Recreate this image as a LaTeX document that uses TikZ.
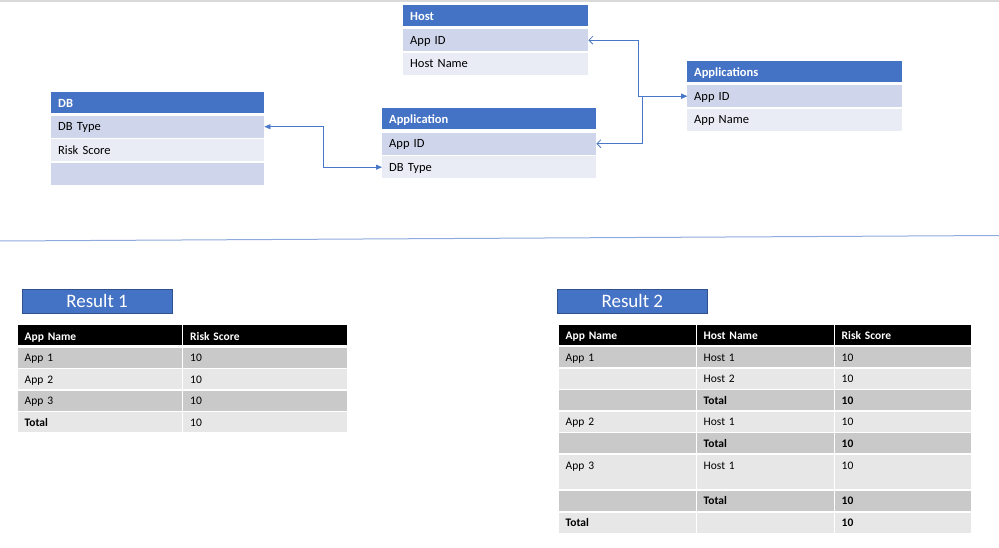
\documentclass[tikz,border=0pt]{standalone}
\usepackage{fontspec}
\setmainfont{Carlito}
\usetikzlibrary{arrows.meta}
\definecolor{hdrblue}{HTML}{4472C4}
\definecolor{rowA}{HTML}{CFD5EA}
\definecolor{rowB}{HTML}{E9EBF5}
\definecolor{gDark}{HTML}{C9C9C9}
\definecolor{gLight}{HTML}{E7E7E7}
\definecolor{linkblue}{HTML}{4A78C8}
\definecolor{sepblue}{HTML}{8FAADC}
\definecolor{boxedge}{HTML}{2F528F}
\definecolor{topgray}{HTML}{D9D9D9}
\tikzset{
  tbl/.style={anchor=north west, inner xsep=7pt, inner ysep=0pt, align=left,
              font=\fontsize{12.5}{15}\selectfont, text=black,
              text height=8.5pt, text depth=0pt},
  thdr/.style={tbl, fill=hdrblue, text=white, font=\fontsize{12.5}{15}\selectfont\bfseries,
              minimum height=21pt, text height=10.5pt},
  trowA/.style={tbl, fill=rowA, minimum height=22pt},
  trowB/.style={tbl, fill=rowB, minimum height=22pt},
  res/.style={anchor=north west, inner xsep=7pt, inner ysep=0pt, align=left,
              font=\fontsize{11.5}{14}\selectfont, text=black, minimum height=20pt,
              text height=8.5pt, text depth=0pt},
  rhdr/.style={res, fill=black, text=white, font=\fontsize{11.5}{14}\selectfont\bfseries, text height=10.5pt},
  rdark/.style={res, fill=gDark},
  rlight/.style={res, fill=gLight},
  rtall/.style={res, fill=gLight, minimum height=34pt, text height=9pt, text depth=14.4pt},
  rbold/.style={font=\fontsize{11.5}{14}\selectfont\bfseries},
  restitle/.style={anchor=north west, fill=hdrblue, draw=boxedge, line width=0.6pt,
              text=white, font=\fontsize{19}{22}\selectfont, minimum width=149.5pt,
              minimum height=24pt, inner sep=0pt},
  link/.style={draw=linkblue, line width=0.75pt},
  both/.style={link, {Triangle[length=6pt,width=5pt]}-{Triangle[length=6pt,width=5pt]}},
  oneway/.style={link, {Triangle[length=6pt,width=5pt]}-{Straight Barb[length=4pt,width=8pt]}}
}
\begin{document}
\begin{tikzpicture}[x=1pt,y=-1pt]
\useasboundingbox (0,0) rectangle (999,548);
% separators
\draw[topgray, line width=1.2pt] (0,1) -- (999,1);
\draw[sepblue, line width=1pt] (0,241) -- (999,235.5);

% DB table
\node[thdr, text width=199pt] (db) at (51,91.5) {DB};
\node[trowA, text width=199pt] (dbtype) at (51,115.5) {DB Type};
\node[trowB, text width=199pt] (dbrisk) at (51,139) {Risk Score};
\node[trowA, text width=199pt] (dbempty) at (51,162.5) {};

% Host table
\node[thdr, text width=171pt] (host) at (403,5) {Host};
\node[trowA, text width=171pt] (hostid) at (403,29) {App ID};
\node[trowB, text width=171pt] (hostname) at (403,52.5) {Host Name};

% Application table
\node[thdr, text width=200pt] (app) at (382,108) {Application};
\node[trowA, text width=200pt] (appid) at (382,132.5) {App ID};
\node[trowB, text width=200pt] (appdb) at (382,156) {DB Type};

% Applications table
\node[thdr, text width=201pt] (apps) at (687,61) {Applications};
\node[trowA, text width=201pt] (appsid) at (687,85) {App ID};
\node[trowB, text width=201pt] (appsname) at (687,108.5) {App Name};

% connectors
\draw[both] (dbtype.east) -- ++(59,0) |- (appdb.west);
\draw[oneway] (appsid.west) -- ++(-48.5,0) |- (hostid.east);
\draw[oneway] (appsid.west) -- ++(-45,0) |- (appid.east);

% Result 1
\node[restitle] (res1) at (22,289) {Result 1};
\node[rhdr, text width=150.5pt] (a0) at (17.5,324.8) {App Name};
\node[rhdr, text width=150pt] (b0) at (183,324.8) {Risk Score};
\node[rdark, text width=150.5pt] (a1) at (17.5,347.5) {App 1};
\node[rdark, text width=150pt] (b1) at (183,347.5) {10};
\node[rlight, text width=150.5pt] (a2) at (17.5,369) {App 2};
\node[rlight, text width=150pt] (b2) at (183,369) {10};
\node[rdark, text width=150.5pt] (a3) at (17.5,390.5) {App 3};
\node[rdark, text width=150pt] (b3) at (183,390.5) {10};
\node[rlight, rbold, text width=150.5pt] (a4) at (17.5,412) {Total};
\node[rlight, text width=150pt] (b4) at (183,412) {10};

% Result 2
\node[restitle] (res2) at (557.3,289) {Result 2};
\node[rhdr, text width=123pt] (c0) at (558.5,324.5) {App Name};
\node[rhdr, text width=123pt] (d0) at (696.5,324.5) {Host Name};
\node[rhdr, text width=122.5pt] (e0) at (834.5,324.5) {Risk Score};

\node[rdark, text width=123pt] (c1) at (558.5,347) {App 1};
\node[rdark, text width=123pt] (d1) at (696.5,347) {Host 1};
\node[rdark, text width=122.5pt] (e1) at (834.5,347) {10};

\node[rlight, text width=123pt] (c2) at (558.5,368.5) {};
\node[rlight, text width=123pt] (d2) at (696.5,368.5) {Host 2};
\node[rlight, text width=122.5pt] (e2) at (834.5,368.5) {10};

\node[rdark, text width=123pt] (c3) at (558.5,390) {};
\node[rdark, rbold, text width=123pt] (d3) at (696.5,390) {Total};
\node[rdark, rbold, text width=122.5pt] (e3) at (834.5,390) {10};

\node[rlight, text width=123pt] (c4) at (558.5,411.5) {App 2};
\node[rlight, text width=123pt] (d4) at (696.5,411.5) {Host 1};
\node[rlight, text width=122.5pt] (e4) at (834.5,411.5) {10};

\node[rdark, text width=123pt] (c5) at (558.5,433) {};
\node[rdark, rbold, text width=123pt] (d5) at (696.5,433) {Total};
\node[rdark, rbold, text width=122.5pt] (e5) at (834.5,433) {10};

\node[rtall, text width=123pt] (c6) at (558.5,455) {App 3};
\node[rtall, text width=123pt] (d6) at (696.5,455) {Host 1};
\node[rtall, text width=122.5pt] (e6) at (834.5,455) {10};

\node[rdark, text width=123pt] (c7) at (558.5,490.5) {};
\node[rdark, rbold, text width=123pt] (d7) at (696.5,490.5) {Total};
\node[rdark, rbold, text width=122.5pt] (e7) at (834.5,490.5) {10};

\node[rlight, rbold, text width=123pt] (c8) at (558.5,512.5) {Total};
\node[rlight, text width=123pt] (d8) at (696.5,512.5) {};
\node[rlight, rbold, text width=122.5pt] (e8) at (834.5,512.5) {10};
\end{tikzpicture}
\end{document}
